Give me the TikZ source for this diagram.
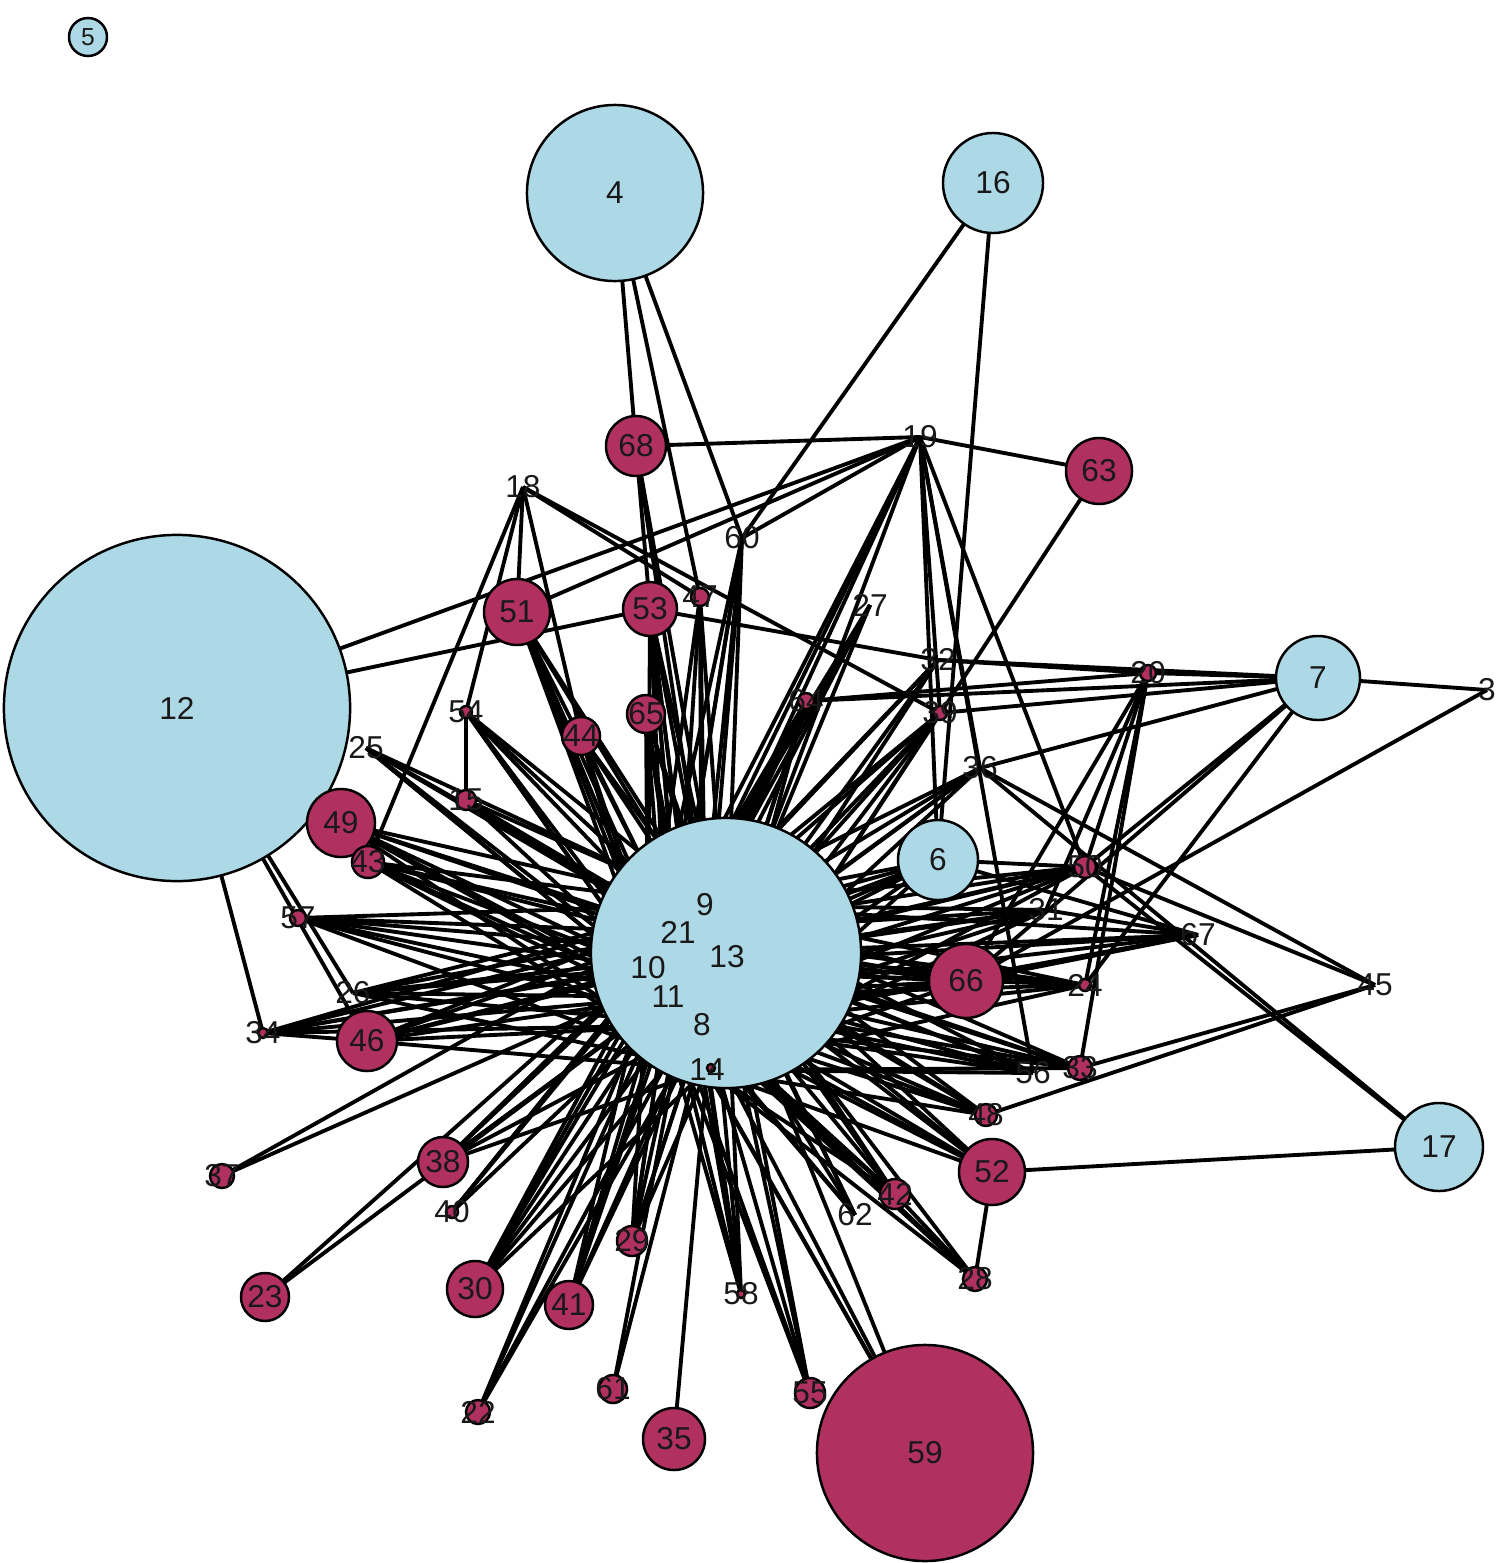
\documentclass[tikz,border=0pt]{standalone}
\usepackage{fontspec}
\setmainfont{Liberation Sans}
\definecolor{lb}{HTML}{ADD8E6}
\definecolor{mr}{HTML}{B03060}
\tikzset{
  edge/.style={line width=1.1pt,black},
  vtx/.style={circle,draw=black,line width=0.7pt,inner sep=0pt},
  lab/.style={inner sep=0pt,text=black!90,font=\fontsize{9}{9}\selectfont}
}
\begin{document}
\begin{tikzpicture}[x=0.01cm,y=-0.01cm]
\useasboundingbox (0,0) rectangle (1500,1563);
% ---- coordinates of all vertices ----
\foreach \n/\x/\y in {
 4/615/193, 16/993/183, 12/177/708, 7/1318/678, 6/938/860, 17/1439/1147, 13/726/953, 5/88/37,
 9/705/905, 21/678/932, 10/648/968, 11/668/997, 8/702/1025, 14/707/1070,
 68/636/446, 63/1099/471, 51/517/612, 53/650/609, 44/581/736, 65/646/714, 49/341/823, 43/368/862,
 46/367/1041, 66/966/981, 52/992/1172, 59/925/1453, 38/443/1162, 23/265/1297, 30/475/1289,
 41/569/1305, 35/674/1439, 37/222/1176, 40/452/1212, 29/632/1241, 61/613/1389, 55/810/1393,
 22/478/1412, 42/895/1194, 28/975/1279, 48/986/1115, 33/1080/1068, 50/1085/867, 24/1085/985,
 47/700/597, 64/806/701, 39/940/713, 20/1148/673, 54/466/712, 15/466/800, 57/298/918,
 34/263/1033, 58/741/1294,
 18/523/487, 19/920/437, 60/742/538, 27/870/605, 32/938/660, 36/980/768, 3/1487/690,
 25/366/748, 26/353/993, 31/1046/910, 67/1198/935, 45/1375/985, 56/1033/1073, 62/855/1215}
  \coordinate (n\n) at (\x,\y);
% ---- fans to the central vertices ----
\foreach \p/\hs in {
 68/{9,21,13}, 53/{9,21,10,11,8,13,14}, 65/{9,21,10,11,8,13,14}, 51/{9,21,10,11,8,13,14},
 44/{9,21,10,11,13}, 47/{9,21,13,10,8}, 60/{9,21,13,10,11,8}, 27/{9,21,13,10,11},
 64/{9,21,10,11,8,13,14}, 32/{9,13,21,10,8}, 39/{9,13,10,11,8,14}, 36/{9,13,10,11,8},
 19/{9,13,21,10}, 6/{9,21,10,11,8,13,14}, 50/{9,21,10,11,8,13,14}, 31/{9,21,10,11,8,13,14},
 67/{9,13,10,11,8}, 66/{9,21,10,11,8,13,14}, 24/{9,21,10,11,8,13,14}, 33/{9,21,10,11,8,13,14},
 56/{9,21,10,11,8,13,14}, 48/{9,21,10,11,8,13,14}, 52/{9,21,10,11,8,13,14}, 28/{13,8,14,11,10},
 42/{9,21,10,11,13,8,14}, 62/{9,21,10,11,13}, 59/{10,9}, 55/{9,21,10,11,13},
 58/{9,21,10,11,8,13,14}, 35/{14}, 61/{13,9}, 29/{9,21,10,11,8,13,14}, 41/{9,21,13,10,11,8},
 22/{9,13,21,8}, 30/{9,21,10,11,8,13,14}, 40/{9,21,10,13}, 38/{9,21,10,11,8,13,14},
 23/{13,9}, 37/{9,13}, 46/{9,21,10,11,8,13,14}, 34/{9,21,10,11,13,8},
 26/{9,21,10,11,8,13,14}, 57/{9,21,10,11,8,13,14}, 43/{9,21,10,11,8,13,14},
 49/{9,21,10,11,8,13,14}, 25/{9,21,10,11,13,8}, 15/{9,21,13,10}, 54/{9,21,10,11,13,8}}
  {\foreach \h in \hs {\draw[edge] (n\p) -- (n\h);}}
% ---- other connectors ----
\foreach \a/\b in {
 4/68, 4/47, 4/60, 16/60, 16/6, 68/19, 19/63, 12/19, 12/53, 19/51, 60/19,
 18/51, 18/43, 18/54, 18/44, 18/47, 18/39, 54/15,
 12/34, 12/26, 12/46, 34/46,
 7/3, 7/20, 7/32, 7/64, 7/39, 7/36, 7/50, 7/66, 7/24, 3/66,
 53/32, 32/20, 20/64, 20/50, 20/24, 20/33, 20/66, 20/31,
 45/50, 45/36, 45/33, 45/48, 17/52, 17/50, 17/36,
 67/6, 67/66, 67/31, 6/50, 63/14,
 19/6, 19/39, 19/36, 19/50, 19/56,
 52/28, 42/28, 59/14, 59/8}
  \draw[edge] (n\a) -- (n\b);
% ---- vertices ----
\foreach \n/\r/\c in {
 4/88/lb, 16/50/lb, 12/173/lb, 7/42/lb, 6/40/lb, 17/44/lb, 13/135/lb, 5/19/lb,
 68/30/mr, 63/33/mr, 51/33/mr, 53/27/mr, 44/19/mr, 65/19/mr, 49/34/mr, 43/16/mr,
 46/30/mr, 66/37/mr, 52/33/mr, 59/108/mr, 38/25/mr, 23/24/mr, 30/28/mr,
 41/24/mr, 35/31/mr, 37/12/mr, 40/6/mr, 29/15/mr, 61/14/mr, 55/15/mr,
 22/12/mr, 42/15/mr, 28/12/mr, 48/11/mr, 33/12/mr, 50/11/mr, 24/6/mr,
 47/9/mr, 64/8/mr, 39/7/mr, 20/8/mr, 54/6/mr, 15/10/mr, 57/8/mr, 34/5/mr, 58/4/mr}
  \node[vtx,fill=\c,minimum size=2*\r*0.1mm] (v\n) at (n\n) {};
\node[vtx,fill=mr,minimum size=0.8mm] (v1) at (711,1068) {};
% ---- labels ----
\foreach \n in {4,16,12,7,6,17,68,63,51,53,44,65,49,43,46,66,52,59,38,23,30,41,35,37,40,29,61,55,
 22,42,28,48,33,50,24,47,64,39,20,54,15,57,34,58,18,19,60,27,32,36,3,25,26,31,67,45,56,62,
 9,21,10,11,8,14}
  \node[lab] (t\n) at (n\n) {\n};
\node[lab] (t13) at (727,957) {13};
\node[lab,font=\fontsize{7}{7}\selectfont] (t5) at (n5) {5};
\end{tikzpicture}
\end{document}
